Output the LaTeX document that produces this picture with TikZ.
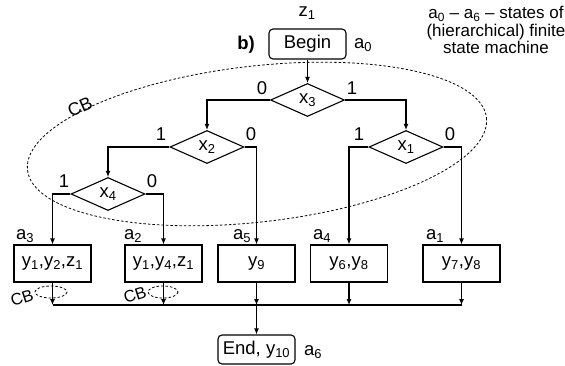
\documentclass[tikz,border=0pt]{standalone}
\usepackage{fontspec}
\setmainfont{Liberation Sans}
\usetikzlibrary{shapes.geometric,arrows.meta}
\begin{document}
\begin{tikzpicture}[x=1pt,y=-1pt, line width=1.1pt, font=\fontsize{18.5}{21}\selectfont,
 arr/.style={-{Latex[length=6pt,width=5pt]}},
 box/.style={draw, minimum width=77pt, minimum height=37pt, inner sep=0pt},
 rbox/.style={box, rounded corners=4pt},
 dia/.style={draw, diamond, minimum width=74pt, minimum height=33pt, inner sep=0pt, aspect=2.2},
 lab/.style={inner sep=0pt},
 cbline/.style={line width=0.8pt, dash pattern=on 2.5pt off 2pt}]
\useasboundingbox (0,0) rectangle (565,365);
% big CB region
\draw[cbline, rotate around={6.5:(257,144)}] (257,144) ellipse [x radius=231, y radius=78];
\node[lab, rotate=24, font=\fontsize{18}{20}\selectfont] (cbbig) at (80,107) {CB};
% header
\node[lab] (z) at (307,13) {z\textsubscript{1}};
\node[rbox, minimum width=77pt, minimum height=30pt] (begin) at (307.5,44) {Begin};
\node[lab] (blab) at (246,45) {\textbf{b)}};
\node[lab] (a0) at (363,45) {a\textsubscript{0}};
\node[lab, align=center, font=\fontsize{17}{17.5}\selectfont] (note) at (496,30) {a\textsubscript{0} -- a\textsubscript{6} -- states of\\(hierarchical) finite\\state machine};
% decisions
\node[dia] (d3) at (307.5,100) {x\textsubscript{3}};
\node[dia] (d2) at (207,147) {x\textsubscript{2}};
\node[dia] (d1) at (406,147) {x\textsubscript{1}};
\node[dia] (d4) at (108,194) {x\textsubscript{4}};
\node[lab] (l30) at (262,88) {0};
\node[lab] (l31) at (352,88) {1};
\node[lab] (l21) at (161,134) {1};
\node[lab] (l20) at (251,134) {0};
\node[lab] (l11) at (359,134) {1};
\node[lab] (l10) at (450,134) {0};
\node[lab] (l41) at (64,181) {1};
\node[lab] (l40) at (152,181) {0};
% operator boxes
\node[box] (b3) at (52.5,263.5) {y\textsubscript{1},y\textsubscript{2},z\textsubscript{1}};
\node[box] (b2) at (163.5,263.5) {y\textsubscript{1},y\textsubscript{4},z\textsubscript{1}};
\node[box] (b5) at (256.5,263.5) {y\textsubscript{9}};
\node[box] (b4) at (349,263.5) {y\textsubscript{6},y\textsubscript{8}};
\node[box] (b1) at (461.5,263.5) {y\textsubscript{7},y\textsubscript{8}};
\node[lab] (a3) at (25,236) {a\textsubscript{3}};
\node[lab] (a2) at (133,236) {a\textsubscript{2}};
\node[lab] (a5) at (242,236) {a\textsubscript{5}};
\node[lab] (a4) at (322,236) {a\textsubscript{4}};
\node[lab] (a1) at (435,236) {a\textsubscript{1}};
\node[rbox, minimum height=29pt] (end) at (256.5,349.5) {End, y\textsubscript{10}};
\node[lab] (a6) at (313,352) {a\textsubscript{6}};
% junctions
\coordinate (j3) at (52.5,305);
\coordinate (j2) at (163.5,305);
\coordinate (j5) at (256.5,305);
\coordinate (j4) at (349,305);
\coordinate (j1) at (461.5,305);
% connectors
\draw[arr] (begin) -- (d3);
\draw[arr] (d3.west) -| (d2.north);
\draw[arr] (d3.east) -| (d1.north);
\draw[arr] (d2.west) -| (d4.north);
\draw[arr] (d2.east) -| (b5.north);
\draw[arr] (d1.west) -| (b4.north);
\draw[arr] (d1.east) -| (b1.north);
\draw[arr] (d4.west) -| (b3.north);
\draw[arr] (d4.east) -| (b2.north);
\draw[arr] (b3) -- (j3);
\draw[arr] (b2) -- (j2);
\draw[arr] (b5) -- (j5);
\draw[arr] (b4) -- (j4);
\draw[arr] (b1) -- (j1);
\draw (j3) -- (j1);
\draw[arr] (j5) -- (end);
% small CB loops
\draw[cbline] (51,292) ellipse [x radius=16, y radius=6];
\draw[cbline] (163,292) ellipse [x radius=15, y radius=6];
\node[lab, rotate=18, font=\fontsize{16.5}{18}\selectfont] (cb1) at (22,298) {CB};
\node[lab, rotate=18, font=\fontsize{16.5}{18}\selectfont] (cb2) at (135,295) {CB};
\end{tikzpicture}
\end{document}
